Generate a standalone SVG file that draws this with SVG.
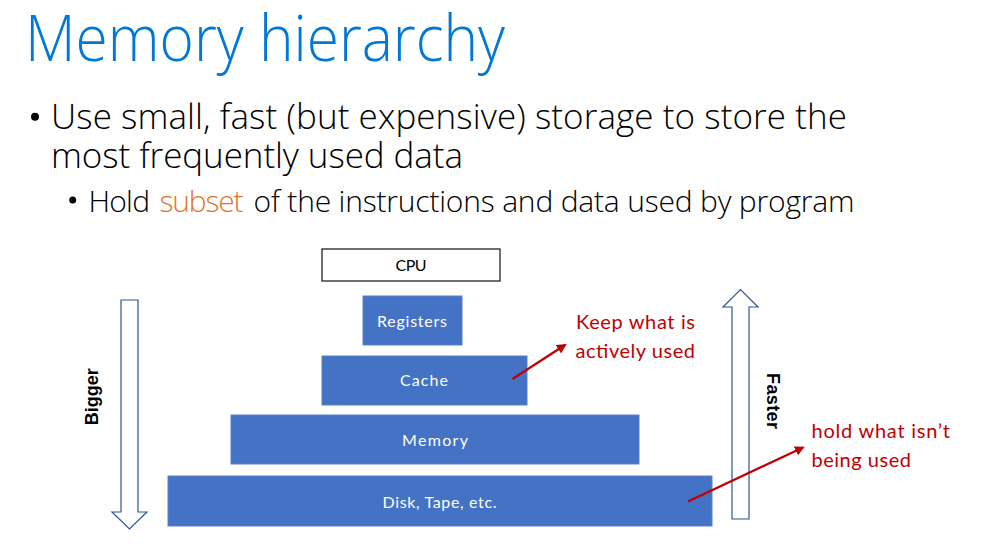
<svg xmlns="http://www.w3.org/2000/svg" width="988" height="560" viewBox="0 0 988 560">
<style>
.title{font-family:"Open Sans","Noto Sans",sans-serif;font-weight:300;font-size:64px;fill:#0078D7}
.body{font-family:"Open Sans","Noto Sans",sans-serif;font-weight:300;fill:#000}
.l1{font-size:35px}
.l3{font-size:30px}
.orange{fill:#E2762E}
.box{fill:#4472C4;stroke:#5B80C9;stroke-width:1}
.cpu{fill:#fff;stroke:#222;stroke-width:1.3}
.lbl{font-family:Lato,"Liberation Sans",sans-serif;font-size:16px;text-anchor:middle}
.wl{fill:#fff}
.bl{fill:#000}
.blk{fill:#fff;stroke:#2F5597;stroke-width:1.2}
.side{font-family:"Liberation Sans",Arial,sans-serif;font-weight:700;font-size:18px;fill:#000;text-anchor:middle}
.red{font-family:Lato,"Liberation Sans",sans-serif;font-size:20px;fill:#C00000}
.rl{stroke:#C00000;stroke-width:2.2;fill:none}
</style>
<defs>
<marker id="ah" viewBox="0 0 10 10" refX="8" refY="5" markerWidth="4.5" markerHeight="4.5" orient="auto" markerUnits="strokeWidth">
<path d="M0,0 L10,5 L0,10 z" fill="#C00000"/>
</marker>
</defs>
<rect width="988" height="560" fill="#fff"/>
<g id="title">
<text class="title" x="25" y="61" textLength="480" lengthAdjust="spacingAndGlyphs">Memory hierarchy</text>
</g>
<g id="bullets">
<circle cx="35" cy="116.7" r="4" fill="#000"/>
<text class="body l1" x="51" y="129.3" textLength="796">Use small, fast (but expensive) storage to store the</text>
<text class="body l1" x="51" y="167.7" textLength="412">most frequently used data</text>
<circle cx="72.7" cy="200" r="3.5" fill="#000"/>
<text class="body l3" x="88.5" y="211.7" textLength="61.5">Hold</text>
<text class="body l3 orange" x="159.5" y="211.7" textLength="84">subset</text>
<text class="body l3" x="253.5" y="211.7" textLength="601">of the instructions and data used by program</text>
</g>
<g id="cpu">
<rect class="cpu" x="322" y="249" width="178" height="32"/>
<text class="lbl bl" x="411" y="270.7" textLength="31">CPU</text>
</g>
<g id="registers">
<rect class="box" x="363" y="296" width="99" height="49"/>
<text class="lbl wl" x="412" y="327" textLength="70">Registers</text>
</g>
<g id="cache">
<rect class="box" x="322" y="356" width="205" height="49"/>
<text class="lbl wl" x="424" y="386" textLength="48">Cache</text>
</g>
<g id="memory">
<rect class="box" x="231" y="415" width="408" height="49"/>
<text class="lbl wl" x="435" y="446" textLength="66">Memory</text>
</g>
<g id="disk">
<rect class="box" x="168" y="476" width="544" height="50"/>
<text class="lbl wl" x="439.5" y="508.3" textLength="114">Disk, Tape, etc.</text>
</g>
<g id="bigger">
<polygon class="blk" points="121,300 138,300 138,512 147,512 129.5,529 112,512 121,512"/>
<text class="side" transform="translate(97.5,396.7) rotate(-90)" textLength="57">Bigger</text>
</g>
<g id="faster">
<polygon class="blk" points="732,519 749,519 749,307 758,307 740.5,289.5 723,307 732,307"/>
<text class="side" transform="translate(767,401) rotate(90)" textLength="56">Faster</text>
</g>
<g id="note-active">
<text class="red" x="576" y="329" textLength="119">Keep what is</text>
<text class="red" x="575.5" y="357.5" textLength="119.5">actively used</text>
</g>
<g id="note-unused">
<text class="red" x="811.5" y="438.3" textLength="138.5">hold what isn’t</text>
<text class="red" x="811.5" y="466.5" textLength="99.5">being used</text>
</g>
<g id="connectors">
<line class="rl" x1="512.5" y1="379" x2="565" y2="345" marker-end="url(#ah)"/>
<line class="rl" x1="688" y1="501.5" x2="803" y2="447.5" marker-end="url(#ah)"/>
</g>
</svg>
